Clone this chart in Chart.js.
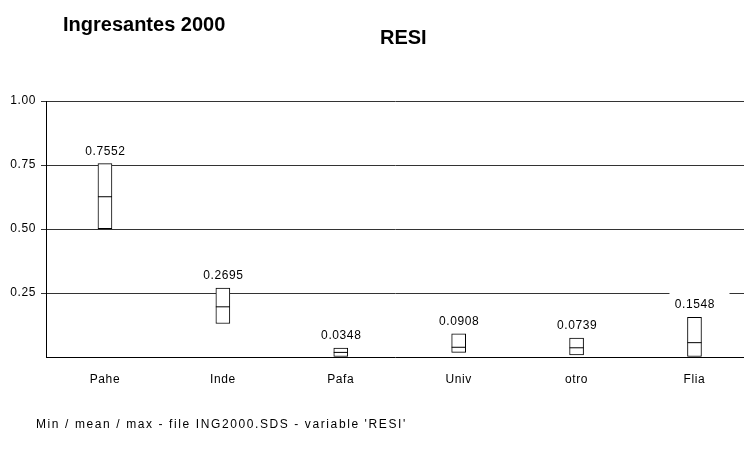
<!DOCTYPE html>
<html>
<head>
<meta charset="utf-8">
<script src="https://cdn.jsdelivr.net/npm/chart.js@4/dist/chart.umd.min.js"></script>
<style>
  html, body { margin: 0; padding: 0; background: #fff; overflow: hidden; }
  #wrap { width: 744px; height: 452px; position: relative; }
</style>
</head>
<body>
<div id="wrap"><canvas id="chart" width="744" height="452"></canvas></div>
<script>
// Min / mean / max of RESI per group
const categories = ['Pahe', 'Inde', 'Pafa', 'Univ', 'otro', 'Flia'];
const maxValues  = [0.7552, 0.2695, 0.0348, 0.0908, 0.0739, 0.1548];
const meanValues = [0.626, 0.196, 0.018, 0.038, 0.036, 0.056];
const minValues  = [0.501, 0.131, 0.002, 0.018, 0.008, 0.0];
const yTickValues = [0, 0.25, 0.5, 0.75, 1.0];

const mainTitle = 'Ingresantes 2000';
const varTitle = 'RESI';
const footNote = "Min / mean / max - file ING2000.SDS - variable 'RESI'";

const FONT = '"Liberation Sans", Arial, sans-serif';
const SMALL_SIZE = 12;
const SMALL_SPACING = '0.6px';

const textPlugin = {
  id: 'texts',
  // the small labels are drawn with a little extra tracking
  beforeUpdate(chart) { chart.ctx.letterSpacing = SMALL_SPACING; },
  beforeDraw(chart) { chart.ctx.letterSpacing = SMALL_SPACING; },
  afterDatasetsDraw(chart) {
    const ctx = chart.ctx;
    const xs = chart.scales.x, ys = chart.scales.y;
    ctx.save();
    ctx.letterSpacing = SMALL_SPACING;
    ctx.font = SMALL_SIZE + 'px ' + FONT;
    ctx.textAlign = 'center';
    ctx.textBaseline = 'alphabetic';
    maxValues.forEach((v, i) => {
      const x = xs.getPixelForValue(i);
      const yTop = ys.getPixelForValue(v);
      const base = yTop - 9;
      ctx.fillStyle = '#fff';
      ctx.fillRect(x - 25, base - 17, 60, 19);
      ctx.fillStyle = '#000';
      ctx.fillText(v.toFixed(4), x + 0.5, base);
    });
    ctx.restore();
  },
  afterDraw(chart) {
    const ctx = chart.ctx;
    ctx.save();
    ctx.fillStyle = '#000';
    ctx.textAlign = 'left';
    ctx.textBaseline = 'alphabetic';
    ctx.letterSpacing = '0px';
    ctx.font = 'bold 20px ' + FONT;
    ctx.fillText(mainTitle, 63, 31);
    ctx.fillText(varTitle, 380, 44);
    ctx.letterSpacing = '1.6px';
    ctx.font = SMALL_SIZE + 'px ' + FONT;
    ctx.fillText(footNote, 36, 428);
    ctx.restore();
  }
};

new Chart(document.getElementById('chart'), {
  type: 'bar',
  data: {
    datasets: [
      {
        type: 'scatter',
        label: 'mean',
        data: categories.map((c, i) => ({ x: i, y: meanValues[i] })),
        showLine: false,
        pointStyle: 'line',
        pointRadius: 7,
        pointHoverRadius: 7,
        borderColor: '#000',
        borderWidth: 1,
        order: 1
      },
      {
        type: 'bar',
        label: 'range',
        data: categories.map((c, i) => ({ x: i, y: [minValues[i], maxValues[i]] })),
        backgroundColor: '#fff',
        borderColor: '#000',
        borderWidth: 1,
        borderSkipped: false,
        barThickness: 14,
        order: 2
      }
    ]
  },
  options: {
    responsive: false,
    animation: false,
    events: [],
    layout: { autoPadding: false, padding: { top: 101, left: 0, right: 0, bottom: 0 } },
    plugins: {
      legend: { display: false },
      tooltip: { enabled: false },
      title: { display: false }
    },
    scales: {
      x: {
        type: 'linear',
        offset: false,
        min: -0.5,
        max: 5.42,
        grid: { display: false, offset: false },
        border: { display: true, color: '#000', width: 1 },
        afterBuildTicks(scale) { scale.ticks = categories.map((c, i) => ({ value: i })); },
        afterFit(scale) {
          scale.height = 95;
          scale.paddingLeft = 0;
          scale.paddingRight = 0;
        },
        ticks: {
          autoSkip: false,
          maxRotation: 0,
          padding: 7,
          color: '#000',
          font: { family: FONT, size: SMALL_SIZE },
          callback: (v) => categories[v] ?? ''
        }
      },
      y: {
        min: 0,
        max: 1,
        afterBuildTicks(scale) { scale.ticks = yTickValues.map(v => ({ value: v })); },
        afterFit(scale) { scale.width = 46; },
        grid: {
          color: (c) => (c.tick && c.tick.value === 0 ? 'rgba(0,0,0,0)' : '#333'),
          lineWidth: 1,
          tickLength: 5,
          drawTicks: true
        },
        border: { display: true, color: '#000', width: 1 },
        ticks: {
          padding: 5,
          color: '#000',
          font: { family: FONT, size: SMALL_SIZE },
          callback: (v) => (v === 0 ? '' : v.toFixed(2))
        }
      }
    }
  },
  plugins: [textPlugin]
});
</script>
</body>
</html>
